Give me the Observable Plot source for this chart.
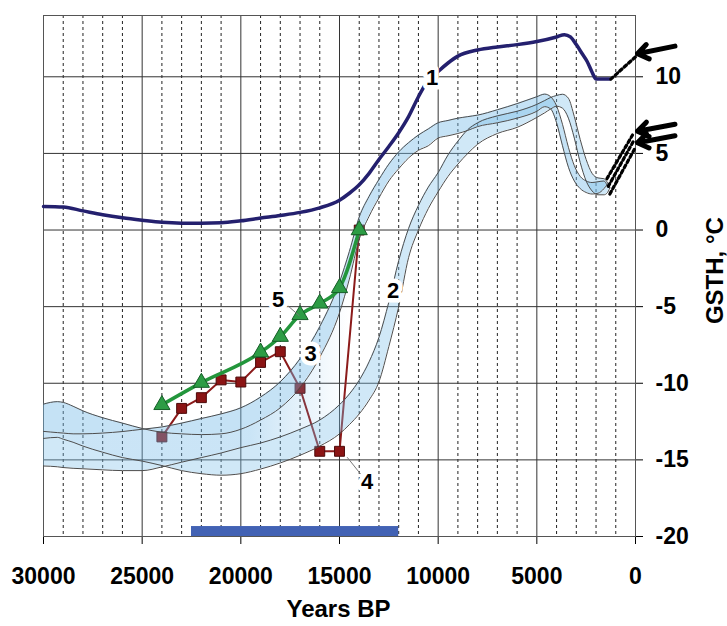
<!DOCTYPE html>
<html><head><meta charset="utf-8">
<script src="https://cdn.jsdelivr.net/npm/d3@7"></script>
<script src="https://cdn.jsdelivr.net/npm/@observablehq/plot@0.6"></script>
<style>body{margin:0;background:#fff}</style>
</head><body><div id="chart"></div>
<script>
// ---- axes / grid ----
const xTicks = [30000, 25000, 20000, 15000, 10000, 5000, 0];
const yTicks = [-20, -15, -10, -5, 0, 5, 10];
const majorGridYears = [25000, 20000, 15000, 10000, 5000];
const minorGridYears = [29000,28000,27000,26000,24000,23000,22000,21000,19000,18000,17000,16000,14000,13000,12000,11000,9000,8000,7000,6000,4000,3000,2000,1000];
const hGrid = [-15, -10, -5, 0, 5, 10];

// ---- curve 1 ----
const c1Years = [30000,29000,28000,27000,26000,25000,24000,23000,22000,21000,20000,19000,18000,17000,16000,15000,14500,14000,13500,13000,12500,12000,11500,11000,10600,10000,9500,9000,8000,7000,6000,5000,4000,3600,3300,3000,2700,2450,2200,2000,1300];
const c1Vals  = [1.54,1.5,1.25,1.0,0.8,0.64,0.5,0.45,0.45,0.47,0.6,0.78,0.95,1.15,1.45,1.95,2.4,2.95,3.7,4.6,5.45,6.35,7.4,8.7,9.6,10.35,10.9,11.35,11.75,11.95,12.1,12.3,12.6,12.75,12.6,12.1,11.5,11.0,10.3,9.85,9.85];

// ---- bands (shared year grid) ----
const bandYears = [30000,29300,29000,28500,28000,27000,26000,25000,24000,23000,22000,21000,20000,19000,18000,17000,16000,15000,14500,14000,13500,13000,12500,12000,11500,11000,10500,10000,9500,9000,8500,8000,7000,6000,5000,4600,4300,4000,3700,3400,3100,2800,2500,2200,1900,1600,1450,1300];
// band 3 (earlier rise): edges A and B
const b3EdgeA = [-11.36,-11.2,-11.25,-11.5,-11.8,-12.25,-12.6,-12.95,-13.2,-13.3,-13.35,-13.3,-13.0,-12.4,-11.6,-10.3,-8.3,-5.4,-3.2,-0.6,0.9,2.1,3.2,4.0,4.7,5.2,5.5,6.0,6.15,6.3,6.5,6.75,7.0,7.3,7.75,8.05,7.9,7.0,5.5,4.1,3.2,2.7,2.45,2.35,2.4,2.7,2.95,null];
const b3EdgeB = [-13.14,-13.22,-13.25,-13.3,-13.3,-13.25,-13.15,-13.0,-12.85,-12.6,-12.3,-12.0,-11.6,-10.9,-9.9,-8.4,-6.3,-3.4,-1.4,0.85,2.2,3.3,4.3,5.1,5.7,6.2,6.6,7.0,7.15,7.3,7.4,7.5,7.85,8.25,8.7,8.87,8.7,8.1,6.9,5.4,4.2,3.5,3.2,3.1,3.15,3.2,2.95,null];
// band 2 (later rise): edges C and D
const b2EdgeC = [-13.6,-13.53,-13.65,-13.85,-14.1,-14.5,-14.85,-15.08,-15.37,-15.7,-15.9,-16.0,-15.9,-15.6,-15.2,-14.7,-14.1,-13.3,-12.7,-12.0,-11.1,-9.9,-7.6,-5.0,-1.8,0.0,1.4,2.5,3.5,4.3,5.0,5.6,6.3,6.7,7.35,7.65,7.9,8.08,7.95,7.3,6.0,4.4,3.2,2.55,2.3,2.3,2.4,2.75];
const b2EdgeD = [-15.4,-15.45,-15.5,-15.55,-15.58,-15.65,-15.7,-15.7,-15.46,-15.15,-14.85,-14.55,-14.2,-13.9,-13.5,-13.0,-12.4,-11.4,-10.7,-9.8,-8.6,-7.0,-4.7,-2.0,0.1,1.6,2.8,3.75,4.9,5.8,6.55,7.0,7.45,7.75,8.2,8.45,8.65,8.78,8.86,8.6,7.4,5.9,4.6,3.7,3.4,3.35,3.15,2.75];
const gapFadeStart = 19500, gapFadeEnd = 14500;

// ---- series 4 (squares) ----
const s4Years = [24000,23000,22000,21000,20000,19000,18000,17000,16000,15000,14000];
const s4Vals  = [-13.5,-11.64,-10.94,-9.78,-9.92,-8.64,-7.94,-10.33,-14.44,-14.44,0];

// ---- series 5 (triangles) ----
const s5Years = [24000,22000,19000,18000,17000,16000,15000,14000];
const s5Vals  = [-11.41,-9.96,-7.98,-6.96,-5.54,-4.79,-3.78,0];

// ---- dotted extensions and arrows ----
const dottedLines = [
  {id: "a", pts: [[1250, 9.85], [0, 11.3]]},
  {id: "b", pts: [[1450, 3.35], [150, 6.2]]},
  {id: "c", pts: [[1380, 2.85], [80, 5.85]]},
  {id: "d", pts: [[1300, 2.35], [0, 5.4]]}
];
const arrowTailYear = -2000, arrowHeadYear = -100;
const arrowTailVals = [12.0, 6.9, 6.15];
const arrowHeadVals = [11.5, 6.45, 5.7];

// ---- bar ----
const barStart = 22500, barEnd = 12000, barBottom = -20, barTop = -19.35;

// ---- labels ----
const labelText = ["1", "2", "3", "4", "5"];
const labelYears = [10302, 12278, 16469, 13596, 18106];
const labelVals = [9.95, -3.96, -8.09, -16.46, -4.55];
const leaders = [
  {x1: 17620, y1: -4.94, x2: 17030, y2: -5.6},
  {x1: 14610, y1: -14.83, x2: 13935, y2: -15.92}
];
const xTitle = "Years BP", yTitle = "GSTH, °C";

// build tables
const c1 = c1Years.map((x, i) => ({x, y: c1Vals[i]}));
const bands = bandYears.map((x, i) => ({x, a: b3EdgeA[i], b: b3EdgeB[i], c: b2EdgeC[i], d: b2EdgeD[i]}));
const gap = bands.filter(r => r.a != null && r.x >= gapFadeEnd - 500)
  .map(r => ({x: r.x, top: Math.min(r.a, r.b), bottom: Math.max(r.c, r.d)}));
const s4 = s4Years.map((x, i) => ({x, y: s4Vals[i]}));
const s5 = s5Years.map((x, i) => ({x, y: s5Vals[i]}));
const dots = dottedLines.flatMap(l => l.pts.map(p => ({id: l.id, x: p[0], y: p[1]})));
const arrows = arrowTailVals.map((v, i) => ({x1: arrowTailYear, y1: v, x2: arrowHeadYear, y2: arrowHeadVals[i]}));
const labels = labelText.map((t, i) => ({t, x: labelYears[i], y: labelVals[i]}));

// custom mark: fading fill between the two bands on the left
function gapMark(index, scales) {
  const ns = "http://www.w3.org/2000/svg";
  const g = document.createElementNS(ns, "g");
  const defs = document.createElementNS(ns, "defs");
  const grad = document.createElementNS(ns, "linearGradient");
  grad.setAttribute("id", "gapfade");
  grad.setAttribute("gradientUnits", "userSpaceOnUse");
  grad.setAttribute("x1", scales.x(gapFadeStart));
  grad.setAttribute("x2", scales.x(gapFadeEnd));
  grad.setAttribute("y1", 0);
  grad.setAttribute("y2", 0);
  [[0, 0.38], [1, 0]].forEach(([o, op]) => {
    const s = document.createElementNS(ns, "stop");
    s.setAttribute("offset", o);
    s.setAttribute("stop-color", "#74b9e8");
    s.setAttribute("stop-opacity", op);
    grad.appendChild(s);
  });
  defs.appendChild(grad);
  const path = document.createElementNS(ns, "path");
  const area = d3.area()
    .x(d => scales.x(d.x)).y0(d => scales.y(d.top)).y1(d => scales.y(d.bottom))
    .curve(d3.curveMonotoneX);
  path.setAttribute("d", area(gap));
  path.setAttribute("fill", "url(#gapfade)");
  g.appendChild(defs);
  g.appendChild(path);
  return g;
}

const edgeStroke = "#4d4d4d";
const hasA = bands.filter(d => d.a != null);
const chart = Plot.plot({
  width: 727, height: 626,
  marginLeft: 43, marginRight: 92, marginTop: 15, marginBottom: 90,
  style: {fontFamily: "'Liberation Sans', Arial, sans-serif", fontSize: "23px", fontWeight: "bold", background: "white", color: "black", overflow: "visible"},
  x: {domain: [30000, 0], ticks: xTicks, tickSize: 8, tickPadding: 23, tickFormat: d => String(d), label: null},
  y: {domain: [-20, 14], axis: "right", ticks: yTicks, tickSize: 7, tickPadding: 13, tickFormat: d => String(d), label: null},
  marks: [
    Plot.ruleX(minorGridYears, {stroke: "#222", strokeDasharray: "3,3", strokeWidth: 1}),
    Plot.ruleX(majorGridYears, {stroke: "#333", strokeWidth: 1}),
    Plot.ruleY(hGrid, {stroke: "#333", strokeWidth: 1}),
    Plot.frame({stroke: "#555"}),
    Plot.rect([{}], {x1: barStart, x2: barEnd, y1: barBottom, y2: barTop, fill: "#4262b4"}),
    // series 4
    Plot.line(s4, {x: "x", y: "y", stroke: "#8b1a1a", strokeWidth: 2}),
    Plot.dot(s4, {x: "x", y: "y", symbol: "square", r: 5.6, fill: "#8b1414", stroke: "#4d0a0a", strokeWidth: 1}),
    // bands
    gapMark,
    Plot.areaY(bands, {x: "x", y1: "c", y2: "d", fill: "#7cc0ea", fillOpacity: 0.36, curve: "monotone-x"}),
    Plot.areaY(hasA, {x: "x", y1: "a", y2: "b", fill: "#74b9e8", fillOpacity: 0.42, curve: "monotone-x"}),
    Plot.line(bands, {x: "x", y: "c", stroke: edgeStroke, strokeWidth: 1, curve: "monotone-x"}),
    Plot.line(bands, {x: "x", y: "d", stroke: edgeStroke, strokeWidth: 1, curve: "monotone-x"}),
    Plot.line(hasA, {x: "x", y: "a", stroke: edgeStroke, strokeWidth: 1, curve: "monotone-x"}),
    Plot.line(hasA, {x: "x", y: "b", stroke: edgeStroke, strokeWidth: 1, curve: "monotone-x"}),
    // series 5
    Plot.line(s5, {x: "x", y: "y", stroke: "#23963c", strokeWidth: 3.5, curve: "monotone-x"}),
    Plot.dot(s5, {x: "x", y: "y", symbol: "triangle", r: 6, fill: "#2d9c45", stroke: "#155d27", strokeWidth: 1}),
    // curve 1
    Plot.line(c1, {x: "x", y: "y", stroke: "#24206e", strokeWidth: 3.5, curve: "monotone-x"}),
    // dotted extensions and arrows
    Plot.line(dots, {x: "x", y: "y", z: "id", stroke: "black", strokeWidth: 3.2, strokeDasharray: "3,3"}),
    Plot.arrow(arrows, {x1: "x1", y1: "y1", x2: "x2", y2: "y2", stroke: "black", strokeWidth: 5, headLength: 8, headAngle: 70}),
    // labels
    Plot.link(leaders, {x1: "x1", y1: "y1", x2: "x2", y2: "y2", stroke: "#777", strokeWidth: 1}),
    Plot.text(labels, {x: "x", y: "y", text: "t", fontSize: 22, fontWeight: "bold", fill: "black", stroke: "white", strokeWidth: 9, paintOrder: "stroke"}),
    Plot.text([xTitle], {frameAnchor: "bottom", dy: 80, dx: -1, fontSize: 24, fontWeight: "bold"}),
    Plot.text([yTitle], {x: () => -4050, y: () => -2.65, rotate: -90, fontSize: 24, fontWeight: "bold"})
  ]
});
document.getElementById("chart").appendChild(chart);
</script>
</body></html>
